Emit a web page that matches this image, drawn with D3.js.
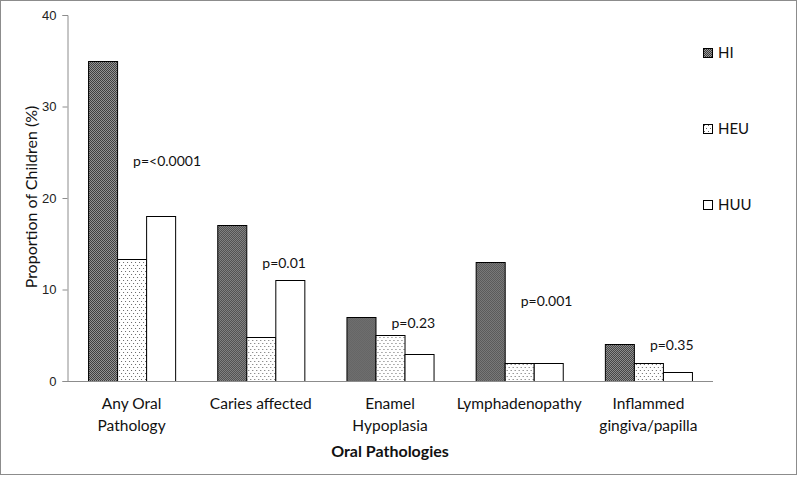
<!DOCTYPE html>
<html>
<head>
<meta charset="utf-8">
<script src="https://cdn.jsdelivr.net/npm/d3@7"></script>
<style>
  body { margin: 0; background: #fff; }
  svg { font-family: Lato, "Open Sans", sans-serif; }
</style>
</head>
<body>
<svg width="800" height="478"></svg>
<script>
// data
var categories = ["Any Oral|Pathology", "Caries affected", "Enamel|Hypoplasia", "Lymphadenopathy", "Inflammed|gingiva/papilla"];
var groups = ["HI", "HEU", "HUU"];
var valuesHI = [35, 17, 7, 13, 4];
var valuesHEU = [13.3, 4.8, 5, 2, 2];
var valuesHUU = [18, 11, 3, 2, 1];
var pLabels = ["p=<0.0001", "p=0.01", "p=0.23", "p=0.001", "p=0.35"];
var pLabelY = [24, 12.9, 6.3, 8.7, 3.9];
var yTicks = [0, 10, 20, 30, 40];

var svg = d3.select("svg");

// outer frame
svg.append("rect")
  .attr("x", 0.5).attr("y", 0.5)
  .attr("width", 796).attr("height", 474)
  .attr("fill", "white")
  .attr("stroke", "#8c8c8c");

// patterns
var defs = svg.append("defs");
var pHI = defs.append("pattern").attr("id", "patHI")
  .attr("width", 2).attr("height", 2).attr("patternUnits", "userSpaceOnUse");
pHI.append("rect").attr("width", 2).attr("height", 2).attr("fill", "#9a9a9a");
pHI.append("rect").attr("width", 1).attr("height", 1).attr("fill", "#3a3a3a");
pHI.append("rect").attr("x", 1).attr("y", 1).attr("width", 1).attr("height", 1).attr("fill", "#3a3a3a");

var pHEU = defs.append("pattern").attr("id", "patHEU")
  .attr("width", 4).attr("height", 6).attr("patternUnits", "userSpaceOnUse");
pHEU.append("rect").attr("width", 4).attr("height", 6).attr("fill", "white");
pHEU.append("rect").attr("x", 1).attr("y", 1).attr("width", 1).attr("height", 1).attr("fill", "#666");
pHEU.append("rect").attr("x", 3).attr("y", 4).attr("width", 1).attr("height", 1).attr("fill", "#666");

var fills = { HI: "url(#patHI)", HEU: "url(#patHEU)", HUU: "white" };

var x0 = d3.scaleBand().domain(d3.range(categories.length)).range([67, 713]).paddingInner(0.326).paddingOuter(0.163);
var x1 = d3.scaleBand().domain(groups).range([0, x0.bandwidth()]);
var y = d3.scaleLinear().domain([0, 40]).range([381, 15]);

var rows = categories.map(function (c, i) {
  return { i: i, HI: valuesHI[i], HEU: valuesHEU[i], HUU: valuesHUU[i] };
});

// bars
var g = svg.append("g");
g.selectAll("g.cat")
  .data(rows)
  .enter().append("g")
  .attr("transform", function (d) { return "translate(" + x0(d.i) + ",0)"; })
  .selectAll("rect")
  .data(function (d) { return groups.map(function (k) { return { k: k, v: d[k] }; }); })
  .enter().append("rect")
  .attr("x", function (d) { return x1(d.k) + 0.5; })
  .attr("y", function (d) { return Math.round(y(d.v)) + 0.5; })
  .attr("width", x1.bandwidth())
  .attr("height", function (d) { return Math.round(y(0)) - Math.round(y(d.v)); })
  .attr("fill", function (d) { return fills[d.k]; })
  .attr("stroke", "black")
  .attr("stroke-width", 1);

// y axis
var yAxis = svg.append("g")
  .attr("transform", "translate(67.5,0)")
  .call(d3.axisLeft(y).tickValues(yTicks).tickSize(5).tickPadding(6));
yAxis.selectAll("path, line").attr("stroke", "#8c8c8c");
yAxis.selectAll("text").style("font-size", "13px").attr("fill", "#222");

// x axis
var xAxis = svg.append("g")
  .attr("transform", "translate(0,381.5)")
  .call(d3.axisBottom(x0).tickSize(0).tickFormat(""));
xAxis.select("path").attr("stroke", "#8c8c8c").attr("d", "M67,0H713");

// category labels
svg.append("g").selectAll("text")
  .data(categories)
  .enter().append("text")
  .attr("x", function (d, i) { return x0(i) + x0.bandwidth() / 2; })
  .attr("y", 409)
  .attr("text-anchor", "middle")
  .style("font-size", "15.5px")
  .attr("fill", "#111")
  .each(function (d) {
    var lines = d.split("|");
    var t = d3.select(this);
    lines.forEach(function (l, j) {
      t.append("tspan")
        .attr("x", t.attr("x"))
        .attr("dy", j === 0 ? 0 : 22)
        .text(l);
    });
  });

// p-value labels
svg.append("g").selectAll("text")
  .data(pLabels)
  .enter().append("text")
  .attr("x", function (d, i) { return x0(i) + x1("HEU") + 16; })
  .attr("y", function (d, i) { return y(pLabelY[i]) + 5; })
  .style("font-size", "14px")
  .attr("fill", "#111")
  .text(function (d) { return d; });

// axis titles
svg.append("text")
  .attr("x", 390)
  .attr("y", 457)
  .attr("text-anchor", "middle")
  .style("font-size", "16px")
  .style("font-weight", "bold")
  .attr("fill", "#111")
  .text("Oral Pathologies");

svg.append("text")
  .attr("transform", "translate(37,197)rotate(-90)")
  .attr("text-anchor", "middle")
  .style("font-size", "16px")
  .attr("fill", "#111")
  .text("Proportion of Children (%)");

// legend
var legend = svg.append("g").selectAll("g")
  .data(groups)
  .enter().append("g")
  .attr("transform", function (d, i) { return "translate(703," + (48 + i * 76) + ")"; });
legend.append("rect")
  .attr("x", 0.5).attr("y", 0.5)
  .attr("width", 9).attr("height", 9)
  .attr("fill", function (d) { return fills[d]; })
  .attr("stroke", "black");
legend.append("text")
  .attr("x", 15)
  .attr("y", 10)
  .style("font-size", "15px")
  .attr("fill", "#111")
  .text(function (d) { return d; });
</script>
</body>
</html>
